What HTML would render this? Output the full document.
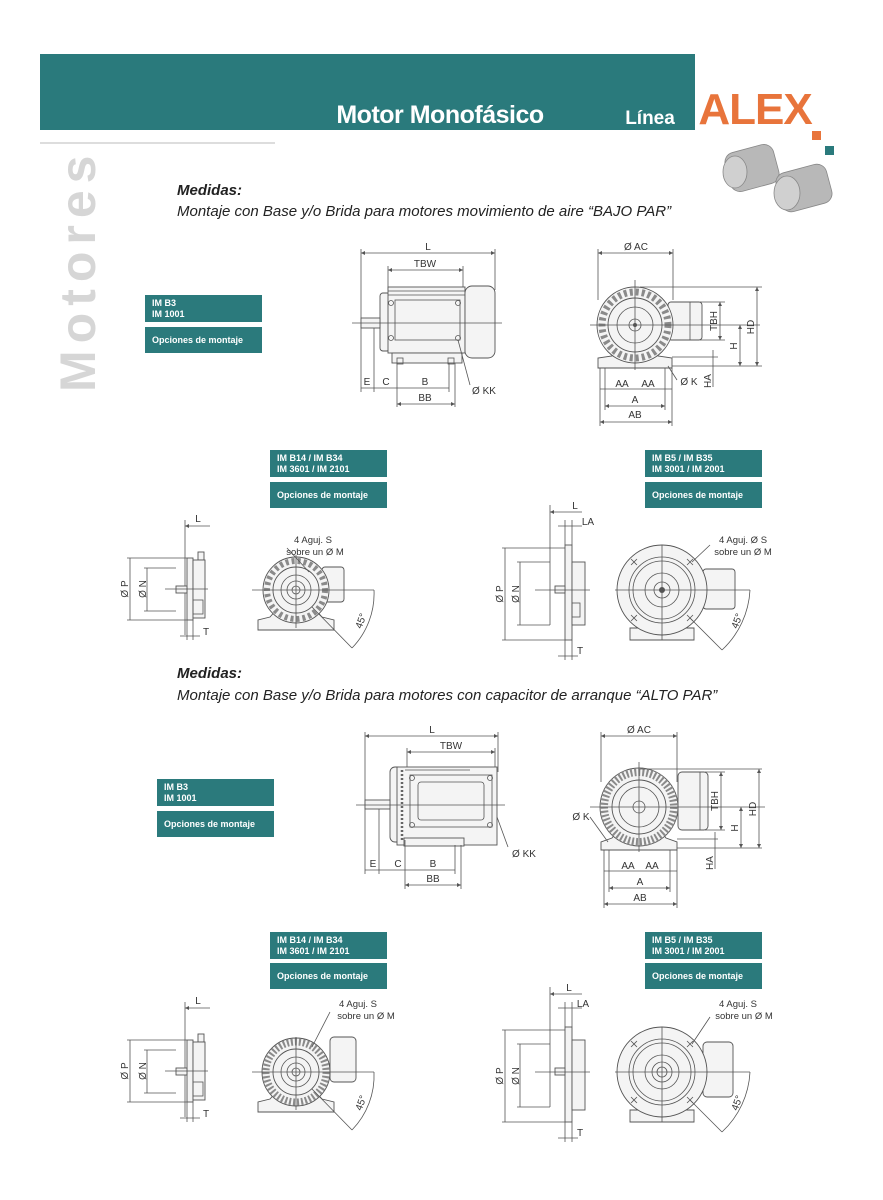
<!DOCTYPE html>
<html><head><meta charset="utf-8"><style>
html,body{margin:0;padding:0;background:#fff;}
svg{display:block;font-family:"Liberation Sans",Arial,sans-serif;}
.l{stroke:#555;stroke-width:0.8;fill:none}
.f{stroke:#555;stroke-width:0.9;fill:#f4f4f4}
.t{font-size:10px;fill:#333;text-anchor:middle}
.bx{fill:#2b7a7c}
.bt{font-size:9px;font-weight:bold;fill:#fff}
</style></head><body>
<svg width="883" height="1200" viewBox="0 0 883 1200" xmlns="http://www.w3.org/2000/svg">
<defs>
<marker id="a" viewBox="0 0 6 6" refX="6" refY="3" markerWidth="5" markerHeight="5" orient="auto-start-reverse"><path d="M0,0L6,3L0,6z" fill="#555"/></marker>
</defs>
<!-- header -->
<rect x="40" y="54" width="655" height="76" fill="#2a7a7c"/>
<text x="440" y="123" font-size="25" font-weight="bold" fill="#fff" text-anchor="middle" style="letter-spacing:-0.5px">Motor Monofásico</text>
<text x="650" y="124" font-size="19" font-weight="bold" fill="#fff" text-anchor="middle">Línea</text>
<text x="755" y="124" font-size="44" font-weight="bold" fill="#e8743b" text-anchor="middle" style="letter-spacing:-1px">ALEX</text>
<rect x="812" y="131" width="9" height="9" fill="#e8743b"/>
<rect x="825" y="146" width="9" height="9" fill="#2a7a7c"/>
<line x1="40" y1="143" x2="275" y2="143" stroke="#bbb" stroke-width="1"/>
<text transform="translate(95,392) rotate(-90)" font-size="50" font-weight="bold" fill="#d6d6d6" style="letter-spacing:7px">Motores</text>
<!-- motor photos -->
<g fill="#b8b8b8" stroke="#888" stroke-width="0.8">
<rect x="727" y="148" width="50" height="40" rx="10" transform="rotate(-15 752 168)"/>
<ellipse cx="735" cy="172" rx="12" ry="16" fill="#d0d0d0"/>
<rect x="778" y="168" width="52" height="40" rx="10" transform="rotate(-15 804 188)"/>
<ellipse cx="787" cy="193" rx="13" ry="17" fill="#d0d0d0"/>
</g>

<text x="177" y="195" font-size="15" font-weight="bold" font-style="italic" fill="#222">Medidas:</text>
<text x="177" y="216" font-size="15" font-style="italic" fill="#222">Montaje con Base y/o Brida para motores movimiento de aire “BAJO PAR”</text>
<text x="177" y="678" font-size="15" font-weight="bold" font-style="italic" fill="#222">Medidas:</text>
<text x="177" y="700" font-size="15" font-style="italic" fill="#222">Montaje con Base y/o Brida para motores con capacitor de arranque “ALTO PAR”</text>

<!-- boxes -->
<g>
<rect class="bx" x="145" y="295" width="117" height="27"/><text class="bt" x="152" y="306">IM B3</text><text class="bt" x="152" y="317">IM 1001</text>
<rect class="bx" x="145" y="327" width="117" height="26"/><text class="bt" x="152" y="343">Opciones de montaje</text>
<rect class="bx" x="270" y="450" width="117" height="27"/><text class="bt" x="277" y="461">IM B14 / IM B34</text><text class="bt" x="277" y="472">IM 3601 / IM 2101</text>
<rect class="bx" x="270" y="482" width="117" height="26"/><text class="bt" x="277" y="498">Opciones de montaje</text>
<rect class="bx" x="645" y="450" width="117" height="27"/><text class="bt" x="652" y="461">IM B5 / IM B35</text><text class="bt" x="652" y="472">IM 3001 / IM 2001</text>
<rect class="bx" x="645" y="482" width="117" height="26"/><text class="bt" x="652" y="498">Opciones de montaje</text>

<rect class="bx" x="157" y="779" width="117" height="27"/><text class="bt" x="164" y="790">IM B3</text><text class="bt" x="164" y="801">IM 1001</text>
<rect class="bx" x="157" y="811" width="117" height="26"/><text class="bt" x="164" y="827">Opciones de montaje</text>
<rect class="bx" x="270" y="932" width="117" height="27"/><text class="bt" x="277" y="943">IM B14 / IM B34</text><text class="bt" x="277" y="954">IM 3601 / IM 2101</text>
<rect class="bx" x="270" y="963" width="117" height="26"/><text class="bt" x="277" y="979">Opciones de montaje</text>
<rect class="bx" x="645" y="932" width="117" height="27"/><text class="bt" x="652" y="943">IM B5 / IM B35</text><text class="bt" x="652" y="954">IM 3001 / IM 2001</text>
<rect class="bx" x="645" y="963" width="117" height="26"/><text class="bt" x="652" y="979">Opciones de montaje</text>
</g>

<!-- ============ FIRST SET ============ -->
<g>
<line class="l" x1="361" y1="249" x2="361" y2="392"/><line class="l" x1="495" y1="249" x2="495" y2="290"/>
<line class="l" x1="361" y1="253" x2="495" y2="253" marker-start="url(#a)" marker-end="url(#a)"/><text class="t" x="428" y="250">L</text>
<line class="l" x1="388" y1="266" x2="388" y2="290"/><line class="l" x1="463" y1="266" x2="463" y2="288"/>
<line class="l" x1="388" y1="270" x2="463" y2="270" marker-start="url(#a)" marker-end="url(#a)"/><text class="t" x="425" y="267">TBW</text>
<rect class="f" x="380" y="293" width="10" height="58" rx="3"/>
<rect class="f" x="388" y="287" width="77" height="66"/>
<line class="l" x1="388" y1="291" x2="465" y2="291"/><line class="l" x1="388" y1="295" x2="465" y2="295"/>
<rect class="l" x="395" y="300" width="65" height="40"/>
<circle class="l" cx="391" cy="303" r="2.5"/><circle class="l" cx="458" cy="303" r="2.5"/><circle class="l" cx="391" cy="338" r="2.5"/><circle class="l" cx="458" cy="338" r="2.5"/>
<rect class="f" x="465" y="286" width="30" height="72" rx="7"/>
<rect class="f" x="392" y="353" width="70" height="10"/>
<rect class="l" x="397" y="358" width="6" height="6"/><rect class="l" x="448" y="358" width="6" height="6"/>
<rect class="f" x="361" y="318" width="19" height="10"/>
<line class="l" x1="352" y1="323" x2="502" y2="323"/>
<line class="l" x1="374" y1="328" x2="374" y2="392"/><line class="l" x1="397" y1="363" x2="397" y2="407"/><line class="l" x1="449" y1="363" x2="449" y2="392"/><line class="l" x1="455" y1="363" x2="455" y2="407"/>
<line class="l" x1="361" y1="388" x2="449" y2="388"/>
<text class="t" x="367" y="385">E</text><text class="t" x="386" y="385">C</text><text class="t" x="425" y="385">B</text>
<line class="l" x1="397" y1="404" x2="455" y2="404" marker-start="url(#a)" marker-end="url(#a)"/><text class="t" x="425" y="401">BB</text>
<line class="l" x1="458" y1="340" x2="470" y2="385"/><text class="t" x="484" y="394">Ø KK</text>

<line class="l" x1="598" y1="249" x2="598" y2="300"/><line class="l" x1="673" y1="249" x2="673" y2="300"/>
<line class="l" x1="598" y1="253" x2="673" y2="253" marker-start="url(#a)" marker-end="url(#a)"/><text class="t" x="636" y="250">Ø AC</text>
<path class="f" d="M598,368 L598,358 L612,356 L620,345 L650,345 L658,356 L672,358 L672,368 Z"/>
<rect class="f" x="668" y="302" width="34" height="38" rx="3"/><line class="l" x1="690" y1="302" x2="690" y2="340"/>
<circle class="f" cx="635" cy="325" r="38"/>
<circle cx="635" cy="325" r="33" fill="none" stroke="#8a8a8a" stroke-width="7" stroke-dasharray="3 3"/>
<circle class="f" cx="635" cy="325" r="27"/><circle class="l" cx="635" cy="325" r="18"/><circle class="l" cx="635" cy="325" r="6"/><circle cx="635" cy="325" r="2" fill="#555"/>
<line class="l" x1="590" y1="325" x2="760" y2="325"/><line class="l" x1="635" y1="280" x2="635" y2="370"/>
<line class="l" x1="640" y1="287" x2="762" y2="287"/><line class="l" x1="672" y1="366" x2="762" y2="366"/><line class="l" x1="700" y1="302" x2="725" y2="302"/><line class="l" x1="700" y1="340" x2="725" y2="340"/><line class="l" x1="672" y1="357" x2="718" y2="357"/>
<line class="l" x1="757" y1="287" x2="757" y2="366" marker-start="url(#a)" marker-end="url(#a)"/><text class="t" transform="translate(754,327) rotate(-90)">HD</text>
<line class="l" x1="720" y1="302" x2="720" y2="340" marker-start="url(#a)" marker-end="url(#a)"/><text class="t" transform="translate(717,321) rotate(-90)">TBH</text>
<line class="l" x1="740" y1="325" x2="740" y2="366" marker-start="url(#a)" marker-end="url(#a)"/><text class="t" transform="translate(737,346) rotate(-90)">H</text>
<line class="l" x1="713" y1="350" x2="713" y2="387"/><text class="t" transform="translate(711,381) rotate(-90)">HA</text>
<line class="l" x1="600" y1="368" x2="600" y2="426"/><line class="l" x1="672" y1="368" x2="672" y2="426"/><line class="l" x1="605" y1="368" x2="605" y2="410"/><line class="l" x1="665" y1="368" x2="665" y2="410"/>
<line class="l" x1="600" y1="389" x2="672" y2="389"/>
<text class="t" x="622" y="387">AA</text><text class="t" x="648" y="387">AA</text>
<line class="l" x1="605" y1="406" x2="665" y2="406" marker-start="url(#a)" marker-end="url(#a)"/><text class="t" x="635" y="403">A</text>
<line class="l" x1="600" y1="422" x2="672" y2="422" marker-start="url(#a)" marker-end="url(#a)"/><text class="t" x="635" y="418">AB</text>
<line class="l" x1="668" y1="366" x2="677" y2="380"/><text class="t" x="689" y="385">Ø K</text>

<line class="l" x1="185" y1="520" x2="185" y2="635"/>
<line class="l" x1="185" y1="526" x2="210" y2="526" marker-start="url(#a)"/><text class="t" x="198" y="522">L</text>
<rect class="f" x="198" y="552" width="6" height="8"/>
<rect class="f" x="187" y="558" width="6" height="62"/><rect class="f" x="193" y="560" width="12" height="58"/>
<rect class="l" x="193" y="600" width="10" height="14"/>
<rect class="f" x="176" y="586" width="11" height="7"/>
<line class="l" x1="165" y1="589" x2="208" y2="589"/>
<line class="l" x1="127" y1="558" x2="187" y2="558"/><line class="l" x1="127" y1="620" x2="187" y2="620"/>
<line class="l" x1="130" y1="558" x2="130" y2="620"/><text class="t" transform="translate(128,589) rotate(-90)">Ø P</text>
<line class="l" x1="144" y1="568" x2="176" y2="568"/><line class="l" x1="144" y1="611" x2="176" y2="611"/>
<line class="l" x1="147" y1="568" x2="147" y2="611"/><text class="t" transform="translate(146,589) rotate(-90)">Ø N</text>
<line class="l" x1="187" y1="620" x2="187" y2="640"/><line class="l" x1="193" y1="620" x2="193" y2="640"/>
<line class="l" x1="180" y1="636" x2="200" y2="636"/><text class="t" x="206" y="635">T</text>
<path class="f" d="M258,630 L258,620 L270,617 L278,608 L314,608 L322,617 L334,620 L334,630 Z"/>
<rect class="f" x="322" y="567" width="22" height="35" rx="3"/>
<circle class="f" cx="296" cy="590" r="33"/>
<circle cx="296" cy="590" r="29" fill="none" stroke="#8a8a8a" stroke-width="6" stroke-dasharray="3 3"/>
<circle class="f" cx="296" cy="590" r="23"/><circle class="l" cx="296" cy="590" r="15"/><circle class="l" cx="296" cy="590" r="9"/><circle class="l" cx="296" cy="590" r="4"/>
<line class="l" x1="252" y1="590" x2="374" y2="590"/><line class="l" x1="296" y1="555" x2="296" y2="628"/>
<line class="l" x1="312" y1="607" x2="352" y2="648"/>
<path class="l" d="M374,590 A78,78 0 0 1 352,648"/>
<text class="t" transform="translate(364,622) rotate(-70)" font-size="9">45°</text>
<line class="l" x1="287" y1="548" x2="309" y2="572"/>
<text class="t" x="313" y="543" style="font-size:9.5px">4 Aguj. S</text><text class="t" x="315" y="555" style="font-size:9.5px">sobre un Ø M</text>

<line class="l" x1="550" y1="505" x2="550" y2="625"/>
<line class="l" x1="550" y1="512" x2="582" y2="512" marker-start="url(#a)"/><text class="t" x="575" y="509">L</text>
<line class="l" x1="565" y1="520" x2="565" y2="545"/><line class="l" x1="572" y1="520" x2="572" y2="545"/>
<line class="l" x1="558" y1="526" x2="582" y2="526"/><text class="t" x="588" y="525">LA</text>
<rect class="f" x="565" y="545" width="7" height="95"/><rect class="f" x="572" y="562" width="13" height="63"/>
<rect class="l" x="572" y="603" width="8" height="14"/>
<rect class="f" x="555" y="586" width="10" height="7"/>
<line class="l" x1="535" y1="590" x2="590" y2="590"/>
<line class="l" x1="502" y1="548" x2="565" y2="548"/><line class="l" x1="502" y1="640" x2="565" y2="640"/>
<line class="l" x1="505" y1="548" x2="505" y2="640"/><text class="t" transform="translate(503,594) rotate(-90)">Ø P</text>
<line class="l" x1="517" y1="562" x2="550" y2="562"/><line class="l" x1="517" y1="625" x2="550" y2="625"/>
<line class="l" x1="520" y1="562" x2="520" y2="625"/><text class="t" transform="translate(519,594) rotate(-90)">Ø N</text>
<line class="l" x1="565" y1="640" x2="565" y2="660"/><line class="l" x1="572" y1="640" x2="572" y2="660"/>
<line class="l" x1="558" y1="656" x2="578" y2="656"/><text class="t" x="580" y="654">T</text>
<rect class="f" x="703" y="569" width="32" height="40" rx="3"/>
<path class="f" d="M630,640 L630,628 L694,628 L694,640 Z"/>
<circle class="f" cx="662" cy="590" r="45"/>
<circle class="l" cx="662" cy="590" r="33"/><circle class="l" cx="662" cy="590" r="29"/><circle class="l" cx="662" cy="590" r="17"/><circle class="l" cx="662" cy="590" r="8"/><circle cx="662" cy="590" r="3" fill="#555"/>
<g class="l"><path d="M631,559l6,6m0,-6l-6,6M687,559l6,6m0,-6l-6,6M631,615l6,6m0,-6l-6,6M687,615l6,6m0,-6l-6,6"/></g>
<line class="l" x1="615" y1="590" x2="750" y2="590"/><line class="l" x1="662" y1="545" x2="662" y2="640"/>
<line class="l" x1="690" y1="618" x2="722" y2="650"/>
<path class="l" d="M750,590 A88,88 0 0 1 722,650"/>
<text class="t" transform="translate(740,622) rotate(-70)" font-size="9">45°</text>
<line class="l" x1="710" y1="545" x2="692" y2="562"/>
<text class="t" x="743" y="543" style="font-size:9.5px">4 Aguj. Ø S</text><text class="t" x="743" y="555" style="font-size:9.5px">sobre un Ø M</text>
</g>

<!-- ============ SECOND SET ============ -->
<g transform="translate(0,482)">
<line class="l" x1="365" y1="250" x2="365" y2="392"/><line class="l" x1="498" y1="250" x2="498" y2="290"/>
<line class="l" x1="365" y1="254" x2="498" y2="254" marker-start="url(#a)" marker-end="url(#a)"/><text class="t" x="432" y="251">L</text>
<line class="l" x1="407" y1="266" x2="407" y2="290"/><line class="l" x1="495" y1="266" x2="495" y2="288"/>
<line class="l" x1="407" y1="270" x2="495" y2="270" marker-start="url(#a)" marker-end="url(#a)"/><text class="t" x="451" y="267">TBW</text>
<rect class="f" x="390" y="285" width="12" height="75" rx="5"/>
<rect class="f" x="397" y="285" width="100" height="78"/>
<g stroke="#666" stroke-width="2.5" stroke-dasharray="2 2"><line x1="402" y1="288" x2="402" y2="360"/></g>
<line class="l" x1="405" y1="288" x2="470" y2="288"/>
<rect class="l" x="410" y="293" width="82" height="52"/><rect class="l" x="418" y="300" width="66" height="38" rx="3"/>
<circle class="l" cx="412" cy="296" r="2.5"/><circle class="l" cx="490" cy="296" r="2.5"/><circle class="l" cx="412" cy="343" r="2.5"/><circle class="l" cx="490" cy="343" r="2.5"/>
<rect class="f" x="404" y="356" width="60" height="8"/>
<rect class="f" x="365" y="318" width="25" height="9"/>
<line class="l" x1="356" y1="323" x2="505" y2="323"/>
<line class="l" x1="379" y1="327" x2="379" y2="392"/><line class="l" x1="405" y1="358" x2="405" y2="407"/><line class="l" x1="455" y1="363" x2="455" y2="392"/><line class="l" x1="461" y1="363" x2="461" y2="407"/>
<line class="l" x1="365" y1="388" x2="455" y2="388"/>
<text class="t" x="373" y="385">E</text><text class="t" x="398" y="385">C</text><text class="t" x="433" y="385">B</text>
<line class="l" x1="405" y1="403" x2="461" y2="403" marker-start="url(#a)" marker-end="url(#a)"/><text class="t" x="433" y="400">BB</text>
<line class="l" x1="497" y1="335" x2="508" y2="365"/><text class="t" x="524" y="375">Ø KK</text>

<line class="l" x1="601" y1="250" x2="601" y2="300"/><line class="l" x1="677" y1="250" x2="677" y2="300"/>
<line class="l" x1="601" y1="254" x2="677" y2="254" marker-start="url(#a)" marker-end="url(#a)"/><text class="t" x="639" y="251">Ø AC</text>
<path class="f" d="M601,368 L601,360 L612,356 L620,345 L658,345 L666,356 L677,360 L677,368 Z"/>
<rect class="f" x="678" y="290" width="30" height="58" rx="4"/><line class="l" x1="700" y1="290" x2="700" y2="348"/>
<circle class="f" cx="639" cy="325" r="39"/>
<circle cx="639" cy="325" r="35" fill="none" stroke="#8a8a8a" stroke-width="8" stroke-dasharray="2 2"/>
<circle class="f" cx="639" cy="325" r="27"/><circle class="l" cx="639" cy="325" r="20"/><circle class="l" cx="639" cy="325" r="6"/>
<line class="l" x1="590" y1="325" x2="765" y2="325"/><line class="l" x1="639" y1="280" x2="639" y2="370"/>
<line class="l" x1="640" y1="287" x2="762" y2="287"/><line class="l" x1="677" y1="366" x2="762" y2="366"/><line class="l" x1="705" y1="290" x2="725" y2="290"/><line class="l" x1="705" y1="348" x2="725" y2="348"/><line class="l" x1="677" y1="357" x2="718" y2="357"/>
<line class="l" x1="759" y1="287" x2="759" y2="366" marker-start="url(#a)" marker-end="url(#a)"/><text class="t" transform="translate(756,327) rotate(-90)">HD</text>
<line class="l" x1="721" y1="290" x2="721" y2="348" marker-start="url(#a)" marker-end="url(#a)"/><text class="t" transform="translate(718,319) rotate(-90)">TBH</text>
<line class="l" x1="741" y1="325" x2="741" y2="366" marker-start="url(#a)" marker-end="url(#a)"/><text class="t" transform="translate(738,346) rotate(-90)">H</text>
<line class="l" x1="715" y1="350" x2="715" y2="387"/><text class="t" transform="translate(713,381) rotate(-90)">HA</text>
<line class="l" x1="604" y1="368" x2="604" y2="426"/><line class="l" x1="677" y1="368" x2="677" y2="426"/><line class="l" x1="609" y1="368" x2="609" y2="410"/><line class="l" x1="670" y1="368" x2="670" y2="410"/>
<line class="l" x1="604" y1="389" x2="677" y2="389"/>
<text class="t" x="628" y="387">AA</text><text class="t" x="652" y="387">AA</text>
<line class="l" x1="609" y1="406" x2="670" y2="406" marker-start="url(#a)" marker-end="url(#a)"/><text class="t" x="640" y="403">A</text>
<line class="l" x1="604" y1="422" x2="677" y2="422" marker-start="url(#a)" marker-end="url(#a)"/><text class="t" x="640" y="419">AB</text>
<line class="l" x1="590" y1="335" x2="608" y2="360"/><text class="t" x="581" y="338">Ø K</text>

<line class="l" x1="185" y1="520" x2="185" y2="635"/>
<line class="l" x1="185" y1="526" x2="210" y2="526" marker-start="url(#a)"/><text class="t" x="198" y="522">L</text>
<rect class="f" x="198" y="552" width="6" height="8"/>
<rect class="f" x="187" y="558" width="6" height="62"/><rect class="f" x="193" y="560" width="12" height="58"/>
<rect class="l" x="193" y="600" width="10" height="14"/>
<rect class="f" x="176" y="586" width="11" height="7"/>
<line class="l" x1="165" y1="589" x2="208" y2="589"/>
<line class="l" x1="127" y1="558" x2="187" y2="558"/><line class="l" x1="127" y1="620" x2="187" y2="620"/>
<line class="l" x1="130" y1="558" x2="130" y2="620"/><text class="t" transform="translate(128,589) rotate(-90)">Ø P</text>
<line class="l" x1="144" y1="568" x2="176" y2="568"/><line class="l" x1="144" y1="611" x2="176" y2="611"/>
<line class="l" x1="147" y1="568" x2="147" y2="611"/><text class="t" transform="translate(146,589) rotate(-90)">Ø N</text>
<line class="l" x1="187" y1="620" x2="187" y2="640"/><line class="l" x1="193" y1="620" x2="193" y2="640"/>
<line class="l" x1="180" y1="636" x2="200" y2="636"/><text class="t" x="206" y="635">T</text>
<path class="f" d="M258,630 L258,620 L270,617 L278,608 L314,608 L322,617 L334,620 L334,630 Z"/>
<rect class="f" x="330" y="555" width="26" height="45" rx="4"/>
<circle class="f" cx="296" cy="590" r="34"/>
<circle cx="296" cy="590" r="30" fill="none" stroke="#8a8a8a" stroke-width="7" stroke-dasharray="2 2"/>
<circle class="f" cx="296" cy="590" r="23"/><circle class="l" cx="296" cy="590" r="15"/><circle class="l" cx="296" cy="590" r="9"/><circle class="l" cx="296" cy="590" r="4"/>
<line class="l" x1="252" y1="590" x2="374" y2="590"/><line class="l" x1="296" y1="555" x2="296" y2="628"/>
<line class="l" x1="312" y1="607" x2="352" y2="648"/>
<path class="l" d="M374,590 A78,78 0 0 1 352,648"/>
<text class="t" transform="translate(364,622) rotate(-70)" font-size="9">45°</text>
<line class="l" x1="330" y1="530" x2="312" y2="565"/>
<text class="t" x="358" y="525" style="font-size:9.5px">4 Aguj. S</text><text class="t" x="366" y="537" style="font-size:9.5px">sobre un Ø M</text>

<line class="l" x1="550" y1="505" x2="550" y2="625"/>
<line class="l" x1="550" y1="512" x2="582" y2="512" marker-start="url(#a)"/><text class="t" x="569" y="509">L</text>
<line class="l" x1="565" y1="520" x2="565" y2="545"/><line class="l" x1="572" y1="520" x2="572" y2="545"/>
<line class="l" x1="558" y1="526" x2="582" y2="526"/><text class="t" x="583" y="525">LA</text>
<rect class="f" x="565" y="545" width="7" height="95"/><rect class="f" x="572" y="558" width="13" height="70"/>
<rect class="f" x="555" y="586" width="10" height="7"/>
<line class="l" x1="535" y1="590" x2="590" y2="590"/>
<line class="l" x1="502" y1="548" x2="565" y2="548"/><line class="l" x1="502" y1="640" x2="565" y2="640"/>
<line class="l" x1="505" y1="548" x2="505" y2="640"/><text class="t" transform="translate(503,594) rotate(-90)">Ø P</text>
<line class="l" x1="517" y1="562" x2="550" y2="562"/><line class="l" x1="517" y1="625" x2="550" y2="625"/>
<line class="l" x1="520" y1="562" x2="520" y2="625"/><text class="t" transform="translate(519,594) rotate(-90)">Ø N</text>
<line class="l" x1="565" y1="640" x2="565" y2="660"/><line class="l" x1="572" y1="640" x2="572" y2="660"/>
<line class="l" x1="558" y1="656" x2="578" y2="656"/><text class="t" x="580" y="654">T</text>
<rect class="f" x="703" y="560" width="30" height="55" rx="4"/>
<path class="f" d="M630,640 L630,628 L694,628 L694,640 Z"/>
<circle class="f" cx="662" cy="590" r="45"/>
<circle class="l" cx="662" cy="590" r="33"/><circle class="l" cx="662" cy="590" r="29"/><circle class="l" cx="662" cy="590" r="17"/><circle class="l" cx="662" cy="590" r="10"/><circle class="l" cx="662" cy="590" r="5"/>
<g class="l"><path d="M631,559l6,6m0,-6l-6,6M687,559l6,6m0,-6l-6,6M631,615l6,6m0,-6l-6,6M687,615l6,6m0,-6l-6,6"/></g>
<line class="l" x1="615" y1="590" x2="750" y2="590"/><line class="l" x1="662" y1="545" x2="662" y2="640"/>
<line class="l" x1="690" y1="618" x2="722" y2="650"/>
<path class="l" d="M750,590 A88,88 0 0 1 722,650"/>
<text class="t" transform="translate(740,622) rotate(-70)" font-size="9">45°</text>
<line class="l" x1="710" y1="535" x2="692" y2="562"/>
<text class="t" x="738" y="525" style="font-size:9.5px">4 Aguj. S</text><text class="t" x="744" y="537" style="font-size:9.5px">sobre un Ø M</text>
</g>
</svg>
</body></html>
